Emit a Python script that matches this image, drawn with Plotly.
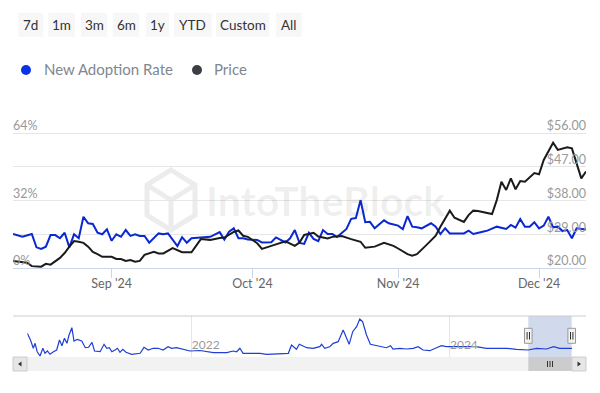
import plotly.graph_objects as go

W, H = 600, 393


def px(x):
    return x / W


def py(y):
    return 1 - y / H


# ---------------- data ----------------
nar_dates = (
    ["2024-08-%02d" % d for d in [11, 13, 15, 16, 17, 18, 19, 20, 21, 22, 23, 24, 25, 26, 27, 28, 29, 30, 31]]
    + ["2024-09-%02d" % d for d in [1, 2, 3, 4, 5, 6, 7, 8, 9, 11, 12, 13, 14, 15, 16, 17, 18, 20, 22, 24, 25, 26, 27, 28, 29, 30]]
    + ["2024-10-%02d" % d for d in [2, 3, 5, 6, 8, 9, 10, 11, 12, 13, 14, 15, 16, 17, 18, 19, 21, 22, 23, 24, 25, 26, 27, 29, 30]]
    + ["2024-11-%02d" % d for d in [1, 2, 3, 4, 5, 6, 8, 9, 10, 11, 12, 15, 16, 17, 19, 20, 22, 24, 25, 26, 27, 28, 29, 30]]
    + ["2024-12-%02d" % d for d in [1, 2, 3, 4, 5, 6, 7, 8, 9, 11]]
)
nar_values = [
    16.1, 14.8, 16.1, 9.8, 9.0, 10.1, 15.6, 15.6, 14.1, 16.7, 9.8, 16.0, 14.1, 24.3, 21.2, 20.9, 16.7, 16.0, 18.3,
    12.9, 16.0, 14.8, 18.0, 15.2, 16.0, 15.2, 15.2, 12.0, 16.4, 16.0, 16.4, 13.3, 10.4, 14.6, 12.0, 14.1, 14.5, 14.8, 17.0, 13.5, 17.2, 18.8, 14.1, 14.1, 13.5,
    13.3, 12.1, 12.2, 14.5, 12.1, 14.1, 18.0, 11.9, 11.4, 16.7, 13.8, 12.7, 18.0, 16.1, 16.1, 14.7, 18.5, 23.3, 23.7, 32.1, 21.7, 21.9, 18.8, 22.6, 21.2,
    20.1, 18.4, 24.6, 19.6, 19.3, 18.8, 21.2, 19.6, 16.1, 18.8, 16.4, 16.4, 17.7, 16.1, 17.2, 17.7, 19.6, 18.5, 20.4, 19.1, 23.2, 19.6, 19.6, 21.7,
    18.8, 20.1, 24.3, 19.3, 19.6, 17.5, 18.0, 14.1, 18.8, 18.3,
]

price_dates = (
    ["2024-08-%02d" % d for d in [11, 14, 15, 17, 18, 19, 21, 22, 23, 24, 25, 26, 27, 28, 29, 30]]
    + ["2024-09-%02d" % d for d in [1, 2, 3, 4, 5, 6, 7, 8, 10, 11, 12, 14, 16, 18, 20, 22, 24, 25, 27, 28, 29, 30]]
    + ["2024-10-%02d" % d for d in [2, 3, 5, 7, 8, 10, 11, 12, 14, 15, 17, 18, 20, 22, 24, 25, 27, 29, 31]]
    + ["2024-11-%02d" % d for d in [1, 3, 4, 5, 7, 8, 9, 10, 12, 13, 15, 16, 17, 18, 20, 21, 22, 23, 24, 25, 26, 27, 28, 30]]
    + ["2024-12-%02d" % d for d in [1, 2, 4, 5, 7, 8, 10, 11]]
)
price_values = [
    21.9, 21.4, 20.5, 20.35, 21.1, 20.9, 22.7, 24.0, 25.7, 27.2, 27.0, 26.7, 25.7, 24.3, 23.7, 23.0,
    23.0, 22.4, 22.4, 21.9, 22.1, 21.7, 21.9, 23.5, 24.3, 23.9, 23.9, 25.3, 24.2, 24.2, 27.7, 27.5, 28.0, 28.1, 29.6, 30.0, 28.6, 28.3,
    26.6, 25.1, 25.9, 26.7, 27.1, 25.9, 26.8, 28.8, 29.4, 28.4, 27.9, 28.3, 28.5, 27.7, 27.0, 25.4, 25.7, 26.7, 25.9,
    25.2, 23.7, 23.3, 23.7, 26.1, 27.5, 28.6, 31.0, 35.3, 33.4, 32.3, 34.1, 35.3, 35.2, 34.6, 34.4, 38.1, 43.0, 40.8, 43.9, 41.0, 43.2, 43.0, 45.3,
    45.0, 48.8, 53.4, 51.5, 52.2, 51.9, 43.9, 45.7,
]

nav_dates = [
    "2020-09-23", "2020-10-02", "2020-10-10", "2020-10-15", "2020-10-21", "2020-10-29", "2020-11-06", "2020-11-12",
    "2020-11-19", "2020-11-26", "2020-12-06", "2020-12-15", "2020-12-23", "2020-12-30", "2021-01-06", "2021-01-13",
    "2021-01-19", "2021-01-27", "2021-02-02", "2021-02-11", "2021-02-24", "2021-03-06", "2021-03-15", "2021-03-25",
    "2021-04-01", "2021-04-17", "2021-04-28", "2021-05-06", "2021-05-13", "2021-05-20", "2021-05-29", "2021-06-05",
    "2021-06-12", "2021-06-20", "2021-06-29", "2021-07-15", "2021-08-08", "2021-08-19", "2021-08-31", "2021-09-14",
    "2021-09-28", "2021-10-12", "2021-10-26", "2021-11-05", "2021-11-19", "2021-12-08", "2021-12-27", "2022-01-24",
    "2022-03-03", "2022-04-10", "2022-04-28", "2022-05-08", "2022-05-17", "2022-05-26", "2022-07-13", "2022-08-01",
    "2022-10-01", "2022-10-10", "2022-10-24", "2022-11-01", "2022-11-22", "2022-12-10", "2022-12-29", "2023-01-03",
    "2023-01-12", "2023-01-26", "2023-02-05", "2023-02-19", "2023-03-05", "2023-03-22", "2023-04-01", "2023-04-12",
    "2023-04-21", "2023-04-29", "2023-05-10", "2023-05-21", "2023-06-07", "2023-06-21", "2023-07-05", "2023-07-17",
    "2023-07-24", "2023-08-12", "2023-08-31", "2023-09-19", "2023-10-03", "2023-10-17", "2023-11-05", "2023-11-24",
    "2023-12-08", "2023-12-22", "2024-01-09", "2024-01-28", "2024-02-16", "2024-03-15", "2024-04-13", "2024-05-11",
    "2024-06-09", "2024-07-07", "2024-08-09", "2024-09-02", "2024-09-30", "2024-10-20", "2024-11-06", "2024-12-11",
]
nav_values = [
    46.2, 33.2, 17.0, 26.7, 10.3, 2.0, 17.0, 7.2,
    11.7, 5.3, 10.3, 13.7, 33.2, 22.0, 36.5, 26.7,
    42.9, 57.2, 31.2, 34.5, 31.2, 18.1, 18.9, 28.7,
    11.7, 10.3, 24.8, 17.0, 18.1, 10.3, 13.7, 17.0,
    9.2, 15.0, 9.2, 5.3, 7.2, 18.9, 13.7, 17.0,
    17.0, 13.7, 20.1, 17.0, 18.1, 15.6, 11.7, 12.7,
    8.4, 8.4, 11.7, 10.3, 17.0, 7.2, 7.2, 5.3,
    7.2, 23.4, 15.0, 24.8, 18.1, 17.0, 20.1, 24.8,
    17.0, 20.1, 26.7, 29.9, 52.7, 24.8, 49.4, 59.1,
    74.1, 68.9, 42.9, 24.8, 22.0, 20.1, 18.1, 22.0,
    15.6, 17.0, 15.6, 17.0, 20.1, 13.7, 12.3, 18.1,
    22.0, 20.1, 20.1, 20.1, 18.9, 20.1, 17.0, 17.0,
    17.0, 15.0, 13.7, 17.0, 15.6, 20.1, 17.0, 17.0,
]

range_buttons = ["7d", "1m", "3m", "6m", "1y", "YTD", "Custom", "All"]
legend_labels = ["New Adoption Rate", "Price"]
x_tick_dates = ["2024-09-01", "2024-10-01", "2024-11-01", "2024-12-01"]
x_tick_labels = ["Sep '24", "Oct '24", "Nov '24", "Dec '24"]
nar_ticks = [0, 32, 64]
nar_tick_labels = ["0%", "32%", "64%"]
price_ticks = [20, 29, 38, 47, 56]
price_tick_labels = ["$20.00", "$29.00", "$38.00", "$47.00", "$56.00"]
nav_tick_dates = ["2022-01-01", "2024-01-01"]
nav_tick_labels = ["2022", "2024"]
view_start, view_end = "2024-08-11", "2024-12-11"

# ---------------- style / geometry ----------------
BLUE = "#0a28d2"
BLACK = "#1b1b1b"
FONT = "Lato"
PLOT_TOP_PX, GRID_TOP_PX, GRID_BOTTOM_PX, PLOT_BOTTOM_PX = 118, 133, 268, 278
SPAN = GRID_BOTTOM_PX - GRID_TOP_PX
# extend the value axes a little beyond the outer gridlines so edge labels stay visible
nar_lo = nar_ticks[0] - (nar_ticks[-1] - nar_ticks[0]) * (PLOT_BOTTOM_PX - GRID_BOTTOM_PX) / SPAN
nar_hi = nar_ticks[-1] + (nar_ticks[-1] - nar_ticks[0]) * (GRID_TOP_PX - PLOT_TOP_PX) / SPAN
price_lo = price_ticks[0] - (price_ticks[-1] - price_ticks[0]) * (PLOT_BOTTOM_PX - GRID_BOTTOM_PX) / SPAN
price_hi = price_ticks[-1] + (price_ticks[-1] - price_ticks[0]) * (GRID_TOP_PX - PLOT_TOP_PX) / SPAN

fig = go.Figure()
fig.add_trace(go.Scatter(x=nar_dates, y=nar_values, mode="lines", name=legend_labels[0],
                         line=dict(color=BLUE, width=2), xaxis="x", yaxis="y", hoverinfo="skip"))
fig.add_trace(go.Scatter(x=price_dates, y=price_values, mode="lines", name=legend_labels[1],
                         line=dict(color=BLACK, width=2), xaxis="x", yaxis="y2", hoverinfo="skip"))
fig.add_trace(go.Scatter(x=nav_dates, y=nav_values, mode="lines", name="navigator",
                         line=dict(color="#1f3fd6", width=1.2), xaxis="x2", yaxis="y3", hoverinfo="skip"))

shapes = []
annotations = []

# watermark logo (hexagon cube)
cx, cy, hw, hh = 171, 200, 24, 30
hexpts = [(cx, cy - hh), (cx + hw, cy - hh / 2), (cx + hw, cy + hh / 2), (cx, cy + hh),
          (cx - hw, cy + hh / 2), (cx - hw, cy - hh / 2)]
path = "M " + " L ".join("%f,%f" % (px(a), py(b)) for a, b in hexpts) + " Z"
for a, b in [hexpts[1], hexpts[3], hexpts[5]]:
    path += " M %f,%f L %f,%f" % (px(cx), py(cy), px(a), py(b))
shapes.append(dict(type="path", xref="paper", yref="paper", path=path, layer="below",
                   line=dict(color="#ececec", width=5)))
annotations.append(dict(text="IntoTheBlock", xref="paper", yref="paper", x=px(204), y=py(200),
                        xanchor="left", yanchor="middle", showarrow=False,
                        font=dict(family=FONT, size=41, color="rgba(0,0,0,0.07)", weight="bold")))

# range selector buttons
btn_x = [(18.3, 43.3), (48.3, 75), (81, 107.3), (112.7, 139.3), (145.7, 169), (174, 211.7), (216, 269.3), (276, 301.7)]
for label, (x0, x1) in zip(range_buttons, btn_x):
    shapes.append(dict(type="rect", xref="paper", yref="paper", x0=px(x0), x1=px(x1), y0=py(36.7), y1=py(12.7),
                       fillcolor="#f7f7f7", line=dict(width=0)))
    annotations.append(dict(text=label, xref="paper", yref="paper", x=px((x0 + x1) / 2), y=py(25),
                            xanchor="center", yanchor="middle", showarrow=False,
                            font=dict(family=FONT, size=13.5, color="#333333")))

# legend
for (cxl, col), label, tx in zip([(26, "#0a33e6"), (197, "#3b3f44")], legend_labels, [41.5, 212]):
    shapes.append(dict(type="circle", xref="paper", yref="paper", x0=px(cxl - 5), x1=px(cxl + 5),
                       y0=py(75), y1=py(65), fillcolor=col, line=dict(width=0)))
    annotations.append(dict(text=label, xref="paper", yref="paper", x=px(tx), y=py(69.5),
                            xanchor="left", yanchor="middle", showarrow=False,
                            font=dict(family=FONT, size=15, color="#7f8791")))

# navigator decorations
shapes.append(dict(type="rect", xref="paper", yref="paper", x0=px(528.3), x1=px(571.7), y0=py(357), y1=py(316),
                   fillcolor="rgba(102,133,194,0.3)", line=dict(width=0), layer="below"))
shapes.append(dict(type="line", xref="paper", yref="paper", x0=px(13), x1=px(586), y0=py(316), y1=py(316),
                   line=dict(color="#cccccc", width=1)))
# scrollbar
shapes.append(dict(type="rect", xref="paper", yref="paper", x0=px(13), x1=px(586), y0=py(371), y1=py(357),
                   fillcolor="#f2f2f2", line=dict(width=0)))
shapes.append(dict(type="rect", xref="paper", yref="paper", x0=px(528.3), x1=px(571.7), y0=py(371), y1=py(357),
                   fillcolor="#cccccc", line=dict(width=0)))
for gx in (547.5, 550, 552.5):
    shapes.append(dict(type="line", xref="paper", yref="paper", x0=px(gx), x1=px(gx), y0=py(367), y1=py(361),
                       line=dict(color="#333333", width=1)))
for x0, x1, tri in [(13, 27, [(21.5, 361.5), (21.5, 366.5), (18, 364)]),
                    (572, 586, [(577.5, 361.5), (577.5, 366.5), (581, 364)])]:
    shapes.append(dict(type="rect", xref="paper", yref="paper", x0=px(x0), x1=px(x1), y0=py(371), y1=py(357),
                       fillcolor="#e6e6e6", line=dict(color="#cccccc", width=1)))
    tp = "M " + " L ".join("%f,%f" % (px(a), py(b)) for a, b in tri) + " Z"
    shapes.append(dict(type="path", xref="paper", yref="paper", path=tp, fillcolor="#333333",
                       line=dict(width=0)))
# handles
for hx in (528.3, 571.7):
    shapes.append(dict(type="rect", xref="paper", yref="paper", x0=px(hx - 3.8), x1=px(hx + 3.8),
                       y0=py(343.3), y1=py(328.3), fillcolor="#f2f2f2", line=dict(color="#999999", width=1)))
    for lx in (hx - 1.2, hx + 1.2):
        shapes.append(dict(type="line", xref="paper", yref="paper", x0=px(lx), x1=px(lx), y0=py(339.5),
                           y1=py(332), line=dict(color="#333333", width=1)))

axis_font = dict(family=FONT, size=12.5, color="#999999")

fig.update_layout(
    width=W, height=H, autosize=False,
    margin=dict(l=0, r=0, t=0, b=0, pad=0),
    paper_bgcolor="white", plot_bgcolor="rgba(0,0,0,0)",
    showlegend=False,
    font=dict(family=FONT),
    xaxis=dict(domain=[px(13), px(586)], range=[view_start, view_end], type="date",
               anchor="free", position=py(GRID_BOTTOM_PX),
               tickvals=x_tick_dates, ticktext=x_tick_labels, ticks="outside", ticklen=9,
               tickcolor="#ccd6eb", tickwidth=1, showline=True, linecolor="#ccd6eb", linewidth=1,
               showgrid=False, zeroline=False, tickfont=dict(family=FONT, size=12.5, color="#666666"),
               ticklabelstandoff=-5, fixedrange=True),
    yaxis=dict(domain=[py(PLOT_BOTTOM_PX), py(PLOT_TOP_PX)], range=[nar_lo, nar_hi], anchor="x",
               tickvals=nar_ticks, ticktext=nar_tick_labels,
               ticklabelposition="inside", ticks="", showgrid=False, zeroline=False, showline=False,
               tickfont=axis_font, ticklabelshift=-7, ticklabelstandoff=-3, fixedrange=True),
    yaxis2=dict(overlaying="y", side="right", anchor="x", range=[price_lo, price_hi], tickvals=price_ticks,
                ticktext=price_tick_labels, ticklabelposition="inside", ticks="", showgrid=True,
                gridcolor="#e6e6e6", gridwidth=1, zeroline=False, showline=False, tickfont=axis_font,
                ticklabelshift=-7, ticklabelstandoff=-3, fixedrange=True),
    xaxis2=dict(domain=[px(27.3), px(572)], anchor="y3", type="date", range=[nav_dates[0], nav_dates[-1]],
                tickvals=nav_tick_dates, ticktext=nav_tick_labels, ticklabelposition="inside right",
                ticks="", showgrid=True, gridcolor="#e6e6e6", showline=False, zeroline=False,
                tickfont=dict(family=FONT, size=12, color="#999999"), fixedrange=True),
    yaxis3=dict(domain=[py(357), py(316)], anchor="x2", range=[0, 80], visible=False, fixedrange=True),
    shapes=shapes,
    annotations=annotations,
)

fig.write_html("out.html", config={"displayModeBar": False},
               post_script="document.body.style.margin='0';document.documentElement.style.overflow='hidden';")
